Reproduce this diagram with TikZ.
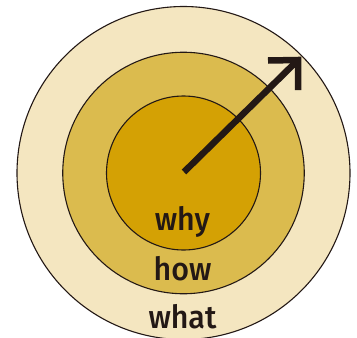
\documentclass[tikz,border=0pt]{standalone}
\usepackage{fontspec}
\newfontfamily\lab{Fira Sans Medium}
\definecolor{outerc}{HTML}{F4E6C0}
\definecolor{midc}{HTML}{DBBB4E}
\definecolor{innerc}{HTML}{D4A104}
\definecolor{ink}{HTML}{231815}
\begin{document}
\begin{tikzpicture}[x=1pt,y=-1pt,
  ring/.style={draw=ink,line width=1.1pt},
  lbl/.style={font=\lab\fontsize{32}{32}\selectfont,text=ink,anchor=base,inner sep=0pt,xscale=0.95}]
\useasboundingbox (0,0) rectangle (357,338);
\begin{scope}
\clip (0,0) rectangle (357,338);
\node[ring,fill=outerc,circle,minimum size=333pt,inner sep=0pt] (outer) at (183.5,173) {};
\end{scope}
\node[ring,fill=midc,circle,minimum size=241.5pt,inner sep=0pt] (mid) at (183.5,173) {};
\node[ring,fill=innerc,circle,minimum size=154pt,inner sep=0pt] (inner) at (183.5,173) {};
\coordinate (c) at (184,172);
\coordinate (tip) at (298,60);
\draw[ink,line width=6.5pt] (c) -- (tip);
\draw[ink,line width=6.5pt,line join=miter] (268,60.5) -- (tip) -- (298,90);
\node[lbl] (why) at (182.5,230) {why};
\node[lbl] (how) at (182.5,280) {how};
\node[lbl] (what) at (182.5,328) {what};
\end{tikzpicture}
\end{document}
